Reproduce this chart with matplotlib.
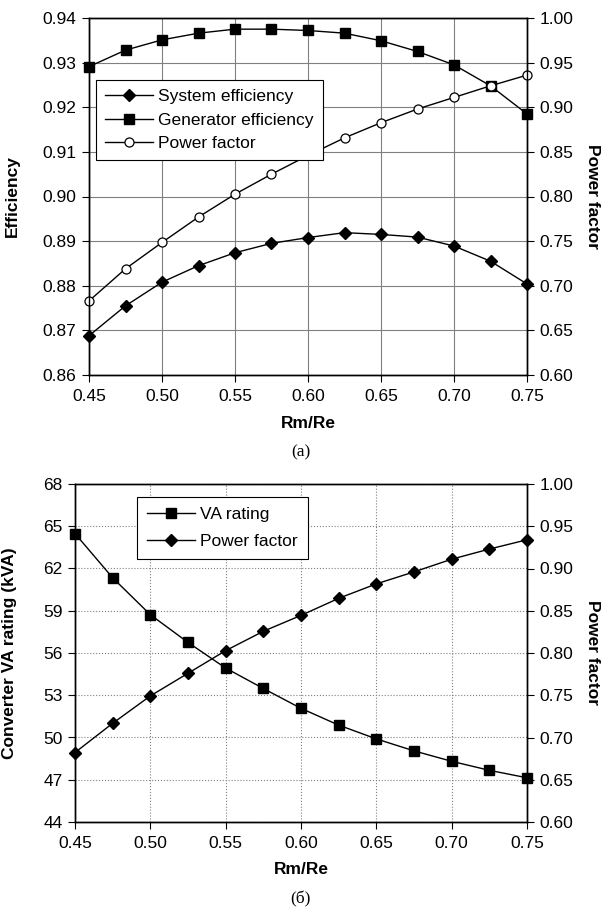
import matplotlib
matplotlib.use("Agg")
import matplotlib.pyplot as plt
from matplotlib.ticker import FormatStrFormatter

plt.rcParams["font.family"] = ["Liberation Sans", "DejaVu Sans"]

# Rm/Re ratio
ratio = [0.45, 0.475, 0.50, 0.525, 0.55, 0.575, 0.60, 0.625, 0.65, 0.675, 0.70, 0.725, 0.75]

# (a) efficiencies and power factor
system_eff = [0.8688, 0.8755, 0.8808, 0.8845, 0.8874, 0.8895, 0.8908,
              0.8919, 0.8915, 0.8909, 0.8889, 0.8855, 0.8804]
generator_eff = [0.9291, 0.9328, 0.9351, 0.9366, 0.9375, 0.9375, 0.9372,
                 0.9366, 0.9349, 0.9325, 0.9295, 0.9248, 0.9185]
power_factor_a = [0.683, 0.719, 0.7485, 0.777, 0.8026, 0.825, 0.846,
                  0.8657, 0.8827, 0.898, 0.911, 0.924, 0.936]

# (b) converter VA rating and power factor
va_rating = [64.48, 61.34, 58.72, 56.75, 54.93, 53.48, 52.07,
             50.88, 49.90, 49.05, 48.31, 47.67, 47.14]
power_factor_b = [0.6822, 0.7168, 0.7492, 0.776, 0.8028, 0.8257, 0.8445,
                  0.8647, 0.8818, 0.896, 0.911, 0.923, 0.934]

x_ticks = [0.45, 0.50, 0.55, 0.60, 0.65, 0.70, 0.75]
eff_ticks = [0.86, 0.87, 0.88, 0.89, 0.90, 0.91, 0.92, 0.93, 0.94]
pf_ticks = [0.60, 0.65, 0.70, 0.75, 0.80, 0.85, 0.90, 0.95, 1.00]
va_ticks = [44, 47, 50, 53, 56, 59, 62, 65, 68]

W, H = 601, 910
fig = plt.figure(figsize=(W / 100, H / 100), dpi=100)

FS = 12.5
line_kw = dict(color="black", linewidth=1.0)
serif = ["Liberation Serif", "DejaVu Serif"]


def style_axes(ax, ax2, grid_ls):
    ax.set_xlim(0.45, 0.75)
    ax.set_xticks(x_ticks)
    ax.xaxis.set_major_formatter(FormatStrFormatter("%.2f"))
    ax.grid(True, color="#808080", linewidth=0.8, linestyle=grid_ls)
    ax.set_axisbelow(True)
    for a in (ax, ax2):
        a.tick_params(labelsize=FS, direction="out", length=5, width=0.8, pad=4)
        for s in a.spines.values():
            s.set_linewidth(1.0)
    ax.tick_params(axis="x", pad=5)
    ax2.set_ylim(0.60, 1.00)
    ax2.set_yticks(pf_ticks)
    ax2.yaxis.set_major_formatter(FormatStrFormatter("%.2f"))
    ax.set_xlabel("Rm/Re", fontsize=FS, fontweight="bold", va="center")


# ---- (a) ----
l, r, t, b = 89, 527, 18, 375
ax = fig.add_axes([l / W, 1 - b / H, (r - l) / W, (b - t) / H])
ax2 = ax.twinx()
ax.set_ylim(0.86, 0.94)
ax.set_yticks(eff_ticks)
ax.yaxis.set_major_formatter(FormatStrFormatter("%.2f"))
style_axes(ax, ax2, "-")

h1, = ax.plot(ratio, system_eff, marker="D", markersize=6, markerfacecolor="black",
              markeredgecolor="black", label="System efficiency", **line_kw)
h2, = ax.plot(ratio, generator_eff, marker="s", markersize=7, markerfacecolor="black",
              markeredgecolor="black", label="Generator efficiency", **line_kw)
h3, = ax2.plot(ratio, power_factor_a, marker="o", markersize=6.5, markerfacecolor="white",
               markeredgecolor="black", markeredgewidth=0.9, label="Power factor", **line_kw)
for a in (ax, ax2):
    for ln in a.lines:
        ln.set_clip_on(False)

ax.set_ylabel("Efficiency", fontsize=FS, fontweight="bold")
ax.yaxis.set_label_coords((20 - l) / (r - l), 0.5)
ax2.set_ylabel("Power factor", fontsize=FS, fontweight="bold", rotation=270, va="center")
ax2.yaxis.set_label_coords((592 - l) / (r - l), 0.5)
ax.xaxis.set_label_coords(0.5, (b - 423) / (b - t))

leg = fig.legend(handles=[h1, h2, h3], loc="upper left", bbox_to_anchor=(96 / W, 1 - 80 / H),
                 borderaxespad=0, fontsize=FS, frameon=True, fancybox=False,
                 edgecolor="black", framealpha=1, handlelength=2.8, handletextpad=0.3,
                 borderpad=0.5, labelspacing=0.5)
leg.get_frame().set_linewidth(0.8)

fig.text(0.5, 1 - 452 / H, "(a)", ha="center", va="center", fontsize=FS, family=serif)

# ---- (б) ----
l, r, t, b = 75, 527, 484, 822
bx = fig.add_axes([l / W, 1 - b / H, (r - l) / W, (b - t) / H])
bx2 = bx.twinx()
bx.set_ylim(44, 68)
bx.set_yticks(va_ticks)
style_axes(bx, bx2, ":")

g1, = bx.plot(ratio, va_rating, marker="s", markersize=7, markerfacecolor="black",
              markeredgecolor="black", label="VA rating", **line_kw)
g2, = bx2.plot(ratio, power_factor_b, marker="D", markersize=6, markerfacecolor="black",
               markeredgecolor="black", label="Power factor", **line_kw)
for a in (bx, bx2):
    for ln in a.lines:
        ln.set_clip_on(False)

bx.set_ylabel("Converter VA rating (kVA)", fontsize=FS, fontweight="bold")
bx.yaxis.set_label_coords((17 - l) / (r - l), 0.5)
bx2.set_ylabel("Power factor", fontsize=FS, fontweight="bold", rotation=270, va="center")
bx2.yaxis.set_label_coords((592 - l) / (r - l), 0.5)
bx.xaxis.set_label_coords(0.5, (b - 869) / (b - t))

leg2 = fig.legend(handles=[g1, g2], loc="upper left", bbox_to_anchor=(137 / W, 1 - 497 / H),
                  borderaxespad=0, fontsize=FS, frameon=True, fancybox=False,
                  edgecolor="black", framealpha=1, handlelength=2.8, handletextpad=0.3,
                  borderpad=0.55, labelspacing=0.7)
leg2.get_frame().set_linewidth(0.8)

fig.text(0.5, 1 - 899 / H, "(б)", ha="center", va="center", fontsize=FS, family=serif)

fig.savefig("out.png", dpi=100)
